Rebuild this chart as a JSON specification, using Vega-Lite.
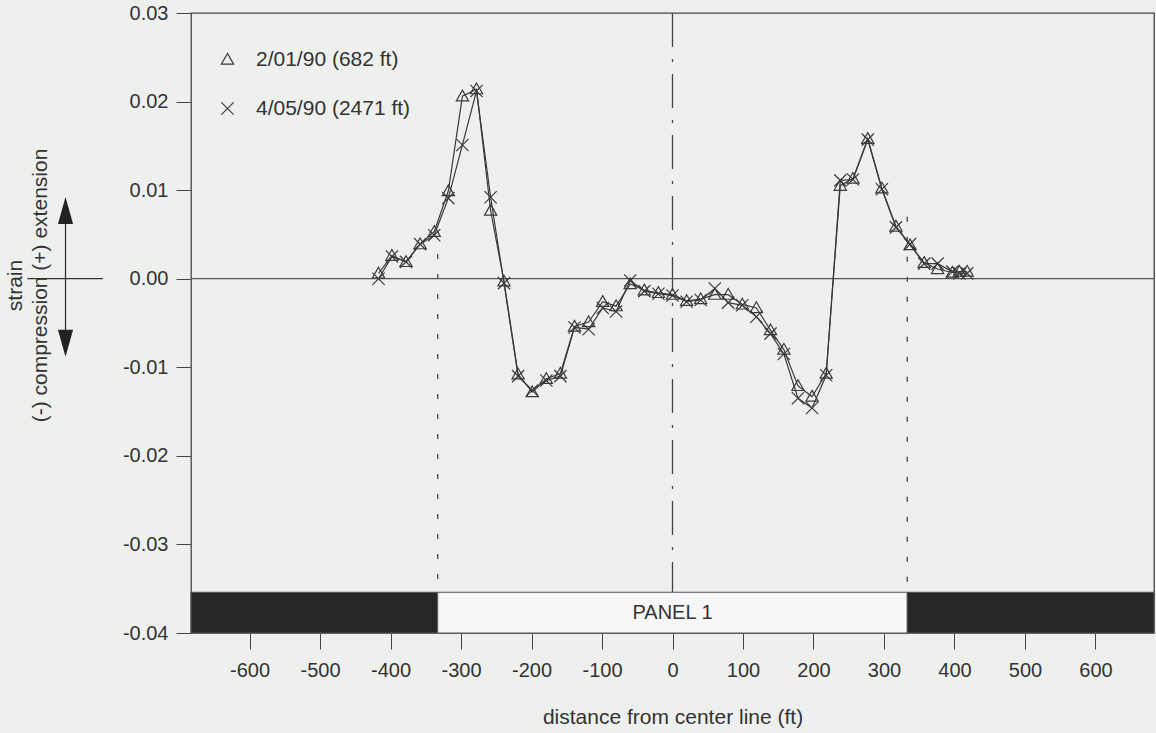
{
  "$schema": "https://vega.github.io/schema/vega-lite/v6.json",
  "width": 963,
  "height": 620,
  "autosize": {"type": "none"},
  "padding": {"left": 191, "top": 13, "right": 2, "bottom": 100},
  "background": "#eef0ee",
  "config": {
    "font": "Liberation Sans",
    "view": {"stroke": "#444", "strokeWidth": 1.3},
    "axis": {"labelFont": "Liberation Sans", "titleFont": "Liberation Sans", "labelColor": "#333", "titleColor": "#333", "domainColor": "#444", "tickColor": "#444", "grid": false, "titleFontWeight": "normal"}
  },
  "datasets": {
    "strain": [
      {"series": "2/01/90 (682 ft)", "d": -417, "s": 0.0006},
      {"series": "2/01/90 (682 ft)", "d": -398, "s": 0.0026},
      {"series": "2/01/90 (682 ft)", "d": -378, "s": 0.0019},
      {"series": "2/01/90 (682 ft)", "d": -358, "s": 0.0039},
      {"series": "2/01/90 (682 ft)", "d": -338, "s": 0.0053},
      {"series": "2/01/90 (682 ft)", "d": -318, "s": 0.0099},
      {"series": "2/01/90 (682 ft)", "d": -298, "s": 0.0206},
      {"series": "2/01/90 (682 ft)", "d": -278, "s": 0.0214},
      {"series": "2/01/90 (682 ft)", "d": -258, "s": 0.0077},
      {"series": "2/01/90 (682 ft)", "d": -239, "s": -0.0003},
      {"series": "2/01/90 (682 ft)", "d": -219, "s": -0.0108},
      {"series": "2/01/90 (682 ft)", "d": -199, "s": -0.0128},
      {"series": "2/01/90 (682 ft)", "d": -179, "s": -0.0113},
      {"series": "2/01/90 (682 ft)", "d": -159, "s": -0.0107},
      {"series": "2/01/90 (682 ft)", "d": -139, "s": -0.0054},
      {"series": "2/01/90 (682 ft)", "d": -119, "s": -0.0049},
      {"series": "2/01/90 (682 ft)", "d": -99, "s": -0.0026},
      {"series": "2/01/90 (682 ft)", "d": -80, "s": -0.0031},
      {"series": "2/01/90 (682 ft)", "d": -60, "s": -0.0006},
      {"series": "2/01/90 (682 ft)", "d": -40, "s": -0.0013},
      {"series": "2/01/90 (682 ft)", "d": -20, "s": -0.0016},
      {"series": "2/01/90 (682 ft)", "d": 0, "s": -0.0018},
      {"series": "2/01/90 (682 ft)", "d": 20, "s": -0.0025},
      {"series": "2/01/90 (682 ft)", "d": 40, "s": -0.0023},
      {"series": "2/01/90 (682 ft)", "d": 60, "s": -0.0018},
      {"series": "2/01/90 (682 ft)", "d": 79, "s": -0.0018},
      {"series": "2/01/90 (682 ft)", "d": 99, "s": -0.0029},
      {"series": "2/01/90 (682 ft)", "d": 119, "s": -0.0033},
      {"series": "2/01/90 (682 ft)", "d": 139, "s": -0.0058},
      {"series": "2/01/90 (682 ft)", "d": 158, "s": -0.008},
      {"series": "2/01/90 (682 ft)", "d": 178, "s": -0.0121},
      {"series": "2/01/90 (682 ft)", "d": 198, "s": -0.0133},
      {"series": "2/01/90 (682 ft)", "d": 218, "s": -0.0107},
      {"series": "2/01/90 (682 ft)", "d": 238, "s": 0.0105},
      {"series": "2/01/90 (682 ft)", "d": 256, "s": 0.0113},
      {"series": "2/01/90 (682 ft)", "d": 277, "s": 0.0158},
      {"series": "2/01/90 (682 ft)", "d": 297, "s": 0.0102},
      {"series": "2/01/90 (682 ft)", "d": 317, "s": 0.0059},
      {"series": "2/01/90 (682 ft)", "d": 337, "s": 0.0038},
      {"series": "2/01/90 (682 ft)", "d": 357, "s": 0.0018},
      {"series": "2/01/90 (682 ft)", "d": 376, "s": 0.0011},
      {"series": "2/01/90 (682 ft)", "d": 397, "s": 0.0007},
      {"series": "2/01/90 (682 ft)", "d": 407, "s": 0.0008},
      {"series": "2/01/90 (682 ft)", "d": 418, "s": 0.0008},
      {"series": "4/05/90 (2471 ft)", "d": -417, "s": 0.0},
      {"series": "4/05/90 (2471 ft)", "d": -398, "s": 0.0025},
      {"series": "4/05/90 (2471 ft)", "d": -378, "s": 0.0019},
      {"series": "4/05/90 (2471 ft)", "d": -358, "s": 0.0039},
      {"series": "4/05/90 (2471 ft)", "d": -338, "s": 0.0049},
      {"series": "4/05/90 (2471 ft)", "d": -318, "s": 0.0091},
      {"series": "4/05/90 (2471 ft)", "d": -298, "s": 0.0151},
      {"series": "4/05/90 (2471 ft)", "d": -278, "s": 0.0212},
      {"series": "4/05/90 (2471 ft)", "d": -258, "s": 0.0092},
      {"series": "4/05/90 (2471 ft)", "d": -239, "s": -0.0005},
      {"series": "4/05/90 (2471 ft)", "d": -219, "s": -0.011},
      {"series": "4/05/90 (2471 ft)", "d": -199, "s": -0.0126},
      {"series": "4/05/90 (2471 ft)", "d": -179, "s": -0.0115},
      {"series": "4/05/90 (2471 ft)", "d": -159, "s": -0.011},
      {"series": "4/05/90 (2471 ft)", "d": -139, "s": -0.0055},
      {"series": "4/05/90 (2471 ft)", "d": -119, "s": -0.0057},
      {"series": "4/05/90 (2471 ft)", "d": -99, "s": -0.0033},
      {"series": "4/05/90 (2471 ft)", "d": -80, "s": -0.0037},
      {"series": "4/05/90 (2471 ft)", "d": -60, "s": -0.0002},
      {"series": "4/05/90 (2471 ft)", "d": -40, "s": -0.0014},
      {"series": "4/05/90 (2471 ft)", "d": -20, "s": -0.0017},
      {"series": "4/05/90 (2471 ft)", "d": 0, "s": -0.0019},
      {"series": "4/05/90 (2471 ft)", "d": 20, "s": -0.0026},
      {"series": "4/05/90 (2471 ft)", "d": 40, "s": -0.0024},
      {"series": "4/05/90 (2471 ft)", "d": 60, "s": -0.0011},
      {"series": "4/05/90 (2471 ft)", "d": 79, "s": -0.0027},
      {"series": "4/05/90 (2471 ft)", "d": 99, "s": -0.003},
      {"series": "4/05/90 (2471 ft)", "d": 119, "s": -0.0043},
      {"series": "4/05/90 (2471 ft)", "d": 139, "s": -0.0062},
      {"series": "4/05/90 (2471 ft)", "d": 158, "s": -0.0085},
      {"series": "4/05/90 (2471 ft)", "d": 178, "s": -0.0135},
      {"series": "4/05/90 (2471 ft)", "d": 198, "s": -0.0146},
      {"series": "4/05/90 (2471 ft)", "d": 218, "s": -0.0109},
      {"series": "4/05/90 (2471 ft)", "d": 238, "s": 0.0111},
      {"series": "4/05/90 (2471 ft)", "d": 256, "s": 0.0112},
      {"series": "4/05/90 (2471 ft)", "d": 277, "s": 0.0157},
      {"series": "4/05/90 (2471 ft)", "d": 297, "s": 0.0101},
      {"series": "4/05/90 (2471 ft)", "d": 317, "s": 0.0058},
      {"series": "4/05/90 (2471 ft)", "d": 337, "s": 0.0039},
      {"series": "4/05/90 (2471 ft)", "d": 357, "s": 0.0017},
      {"series": "4/05/90 (2471 ft)", "d": 376, "s": 0.0017},
      {"series": "4/05/90 (2471 ft)", "d": 397, "s": 0.0008},
      {"series": "4/05/90 (2471 ft)", "d": 407, "s": 0.0006},
      {"series": "4/05/90 (2471 ft)", "d": 418, "s": 0.0006}
    ],
    "panels": [
      {"kind": "solid", "d": -683, "b": -333},
      {"kind": "panel", "d": -333, "b": 333},
      {"kind": "solid", "d": 333, "b": 683}
    ],
    "panelLabel": [{"label": "PANEL 1", "d": 0}],
    "edges": [
      {"d": -333, "s": 0.0028, "bottom": -0.0354},
      {"d": 333, "s": 0.007, "bottom": -0.0354}
    ],
    "center": [{"d": 0, "s": 0.03, "bottom": -0.0354}],
    "one": [{}]
  },
  "layer": [
    {
      "data": {"name": "panels"},
      "mark": {"type": "rect", "stroke": "#555", "strokeWidth": 1},
      "encoding": {
        "x": {"field": "d", "type": "quantitative", "scale": {"domain": [-683, 683], "nice": false, "zero": false}},
        "x2": {"field": "b"},
        "y": {"datum": -0.0354, "type": "quantitative", "scale": {"domain": [-0.04, 0.03], "nice": false, "zero": false}},
        "y2": {"datum": -0.04},
        "fill": {"field": "kind", "type": "nominal", "scale": {"domain": ["solid", "panel"], "range": ["#262626", "#f6f7f6"]}, "legend": null}
      }
    },
    {
      "data": {"name": "panelLabel"},
      "mark": {"type": "text", "fontSize": 20, "color": "#333", "baseline": "middle", "align": "center"},
      "encoding": {
        "x": {"field": "d", "type": "quantitative", "scale": {"domain": [-683, 683], "nice": false, "zero": false}},
        "y": {"datum": -0.0377, "type": "quantitative", "scale": {"domain": [-0.04, 0.03], "nice": false, "zero": false}},
        "text": {"field": "label"}
      }
    },
    {
      "data": {"name": "edges"},
      "mark": {"type": "rule", "color": "#444", "strokeWidth": 1.3, "strokeDash": [5, 15]},
      "encoding": {
        "x": {"field": "d", "type": "quantitative", "scale": {"domain": [-683, 683], "nice": false, "zero": false}},
        "y": {"field": "s", "type": "quantitative", "scale": {"domain": [-0.04, 0.03], "nice": false, "zero": false}},
        "y2": {"field": "bottom"}
      }
    },
    {
      "data": {"name": "center"},
      "mark": {"type": "rule", "color": "#444", "strokeWidth": 1.3, "strokeDash": [34, 12, 3, 12]},
      "encoding": {
        "x": {"field": "d", "type": "quantitative", "scale": {"domain": [-683, 683], "nice": false, "zero": false}},
        "y": {"field": "s", "type": "quantitative", "scale": {"domain": [-0.04, 0.03], "nice": false, "zero": false}},
        "y2": {"field": "bottom"}
      }
    },
    {
      "data": {"name": "one"},
      "mark": {"type": "rule", "color": "#555", "strokeWidth": 1.3},
      "encoding": {
        "y": {"datum": 0, "type": "quantitative", "scale": {"domain": [-0.04, 0.03], "nice": false, "zero": false}}
      }
    },
    {
      "data": {"name": "strain"},
      "mark": {"type": "line", "color": "#3a3a3a", "strokeWidth": 1.2},
      "encoding": {
        "x": {"field": "d", "type": "quantitative", "scale": {"domain": [-683, 683], "nice": false, "zero": false},
          "axis": {"values": [-600, -500, -400, -300, -200, -100, 0, 100, 200, 300, 400, 500, 600], "labelExpr": "replace(format(datum.value, 'd'), '\u2212', '-')", "tickSize": 16, "labelPadding": 11, "labelFontSize": 20, "title": "distance from center line (ft)", "titleFontSize": 21, "titlePadding": 26, "domain": false}},
        "y": {"field": "s", "type": "quantitative", "scale": {"domain": [-0.04, 0.03], "nice": false, "zero": false},
          "axis": {"values": [-0.04, -0.03, -0.02, -0.01, 0, 0.01, 0.02, 0.03], "labelExpr": "replace(format(datum.value, '.2f'), '\u2212', '-')", "tickSize": 15, "labelPadding": 8, "labelFontSize": 20, "title": ["strain", "(-) compression (+) extension"], "titleFontSize": 21, "titleLineHeight": 25, "titleX": -187, "titleY": 272, "titleAngle": -90, "titleAlign": "center", "titleBaseline": "top", "domain": false}},
        "detail": {"field": "series", "type": "nominal"}
      }
    },
    {
      "data": {"name": "strain"},
      "mark": {"type": "point", "filled": false, "color": "#3a3a3a", "strokeWidth": 1.2, "size": 150, "opacity": 1},
      "encoding": {
        "x": {"field": "d", "type": "quantitative", "scale": {"domain": [-683, 683], "nice": false, "zero": false}},
        "y": {"field": "s", "type": "quantitative", "scale": {"domain": [-0.04, 0.03], "nice": false, "zero": false}},
        "shape": {"field": "series", "type": "nominal",
          "scale": {"domain": ["2/01/90 (682 ft)", "4/05/90 (2471 ft)"], "range": ["M0,-1L1,0.75L-1,0.75Z", "M-1,-1L1,1M-1,1L1,-1"]},
          "legend": {"title": null, "orient": "none", "legendX": 26, "legendY": 36, "labelFontSize": 21, "labelColor": "#333", "labelOffset": 18, "rowPadding": 27, "symbolSize": 150, "symbolStrokeColor": "#3a3a3a", "symbolFillColor": "transparent", "symbolStrokeWidth": 1.2, "padding": 0}}
      }
    },
    {
      "data": {"name": "one"},
      "mark": {"type": "rule", "color": "#333", "strokeWidth": 1.3},
      "encoding": {
        "x": {"datum": -915, "type": "quantitative", "scale": {"domain": [-683, 683], "nice": false, "zero": false}},
        "x2": {"datum": -808},
        "y": {"datum": 0, "type": "quantitative", "scale": {"domain": [-0.04, 0.03], "nice": false, "zero": false}}
      }
    },
    {
      "data": {"name": "one"},
      "mark": {"type": "rule", "color": "#333", "strokeWidth": 1.3},
      "encoding": {
        "x": {"datum": -861, "type": "quantitative", "scale": {"domain": [-683, 683], "nice": false, "zero": false}},
        "y": {"datum": 0.0077, "type": "quantitative", "scale": {"domain": [-0.04, 0.03], "nice": false, "zero": false}},
        "y2": {"datum": -0.0073}
      }
    },
    {
      "data": {"name": "one"},
      "mark": {"type": "point", "shape": "M0,-1L0.56,1L-0.56,1Z", "size": 729, "filled": true, "color": "#222", "opacity": 1},
      "encoding": {
        "x": {"datum": -861, "type": "quantitative", "scale": {"domain": [-683, 683], "nice": false, "zero": false}},
        "y": {"datum": 0.0077, "type": "quantitative", "scale": {"domain": [-0.04, 0.03], "nice": false, "zero": false}}
      }
    },
    {
      "data": {"name": "one"},
      "mark": {"type": "point", "shape": "M0,1L0.56,-1L-0.56,-1Z", "size": 729, "filled": true, "color": "#222", "opacity": 1},
      "encoding": {
        "x": {"datum": -861, "type": "quantitative", "scale": {"domain": [-683, 683], "nice": false, "zero": false}},
        "y": {"datum": -0.0073, "type": "quantitative", "scale": {"domain": [-0.04, 0.03], "nice": false, "zero": false}}
      }
    }
  ]
}
